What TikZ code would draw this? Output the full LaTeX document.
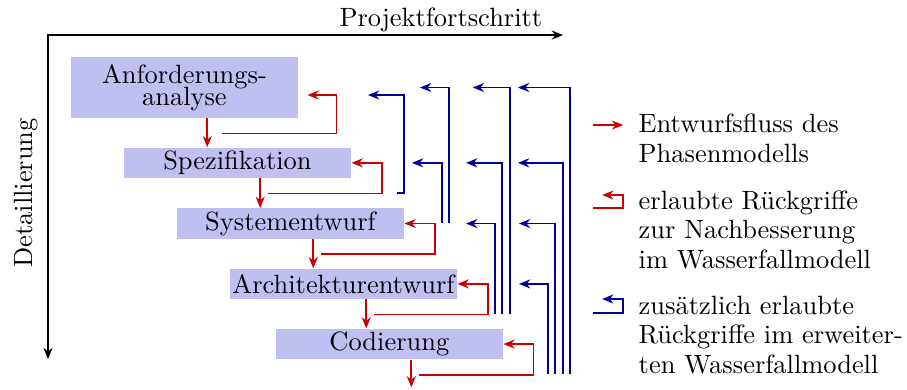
\documentclass[tikz,border=0pt]{standalone}
\usetikzlibrary{arrows.meta, calc}
\definecolor{phasefill}{RGB}{191,191,242}
\definecolor{flowred}{RGB}{204,0,0}
\definecolor{extrablue}{RGB}{0,0,150}

\begin{document}
\begin{tikzpicture}[>={Stealth[length=1.5mm, width=1.2mm]},
  phasebox/.style={fill=phasefill, minimum width=3.02cm, minimum height=0.4cm, inner sep=0.5pt, align=center},
  flowarrow/.style={->, line width=0.7pt, flowred},
  redback/.style={->, line width=0.7pt, flowred},
  blueback/.style={->, line width=0.7pt, extrablue},
  legendtext/.style={anchor=base west, inner sep=0pt, align=left, font=\fontsize{10pt}{11pt}\selectfont}]
  \useasboundingbox (-0.638,-4.708) rectangle (11.425,0.466);
  % axes
  \coordinate (xend) at (6.85,0);
  \coordinate (yend) at (0,-4.31);
  \draw[<->, line width=1pt] (yend) |- (xend);
  \node[anchor=base east, inner sep=0pt] (xlabel) at (6.58,0.11) {Projektfortschritt};
  \node[anchor=base, rotate=90] (ylabel) at (-0.2,-2.10) {Detaillierung};
  % phases
  \node[phasebox, minimum height=0.81cm] (anforderung) at (1.815,-0.698) {Anforderungs-\\[-3.7pt]analyse};
  \node[phasebox] (spezifikation) at (2.52,-1.70) {Spezifikation};
  \node[phasebox] (systementwurf) at (3.225,-2.507) {Systementwurf};
  \node[phasebox] (architektur) at (3.93,-3.31) {Architekturentwurf};
  \node[phasebox] (codierung) at (4.54,-4.11) {Codierung};
  % design flow
  \draw[flowarrow] ([xshift=1.82cm]anforderung.south west) coordinate (f1) -- (f1 |- spezifikation.north);
  \draw[flowarrow] ([xshift=1.82cm]spezifikation.south west) coordinate (f2) -- (f2 |- systementwurf.north);
  \draw[flowarrow] ([xshift=1.82cm]systementwurf.south west) coordinate (f3) -- (f3 |- architektur.north);
  \draw[flowarrow] ([xshift=1.82cm]architektur.south west) coordinate (f4) -- (f4 |- codierung.north);
  \coordinate (codeend) at ([xshift=1.81cm,yshift=-0.37cm]codierung.south west);
  \draw[flowarrow] (codeend |- codierung.south) -- (codeend);
  % waterfall feedback
  \draw[redback] ([xshift=2.02cm,yshift=-0.2cm]anforderung.south west) -| ([xshift=0.505cm,yshift=-0.1cm]anforderung.east) -- ([xshift=0.12cm,yshift=-0.1cm]anforderung.east);
  \draw[redback] ([xshift=1.92cm,yshift=-0.2cm]spezifikation.south west) -| ([xshift=0.4cm]spezifikation.east) -- (spezifikation.east);
  \draw[redback] ([xshift=1.92cm,yshift=-0.2cm]systementwurf.south west) -| ([xshift=0.4cm]systementwurf.east) -- (systementwurf.east);
  \draw[redback] ([xshift=1.92cm,yshift=-0.2cm]architektur.south west) -| ([xshift=0.4cm]architektur.east) -- (architektur.east);
  \draw[redback] ([xshift=1.91cm,yshift=-0.2cm]codierung.south west) -| ([xshift=0.4cm]codierung.east) -- (codierung.east);
  % extended feedback
  \draw[blueback] (4.64,-2.101) -- (4.735,-2.101) |- (4.256,-0.798);
  \draw[blueback] (5.24,-2.50) |- (4.84,0 |- spezifikation);
  \draw[blueback] (5.333,-2.50) |- (4.948,0 |- anforderung);
  \draw[blueback] (5.945,-3.711) |- (5.56,0 |- systementwurf);
  \draw[blueback] (6.038,-3.711) |- (5.56,0 |- spezifikation);
  \draw[blueback] (6.145,-3.711) |- (5.65,0 |- anforderung);
  \draw[blueback] (6.65,-4.509) |- (6.264,0 |- architektur);
  \draw[blueback] (6.743,-4.509) |- (6.264,0 |- systementwurf);
  \draw[blueback] (6.85,-4.509) |- (6.25,0 |- spezifikation);
  \draw[blueback] (6.943,-4.509) |- (6.25,0 |- anforderung);
  % legend
  \node[legendtext] (legflow) at (7.85,-1.689) {Entwurfsfluss des\\Phasenmodells};
  \node[legendtext] (legred) at (7.85,-3.099) {erlaubte R\"uckgriffe\\zur Nachbesserung\\im Wasserfallmodell};
  \node[legendtext] (legblue) at (7.85,-4.495) {zus\"atzlich erlaubte\\R\"uckgriffe im erweiter-\\ten Wasserfallmodell};
  \draw[flowarrow] (7.25,-1.197) -- (7.65,-1.197);
  \draw[redback] (7.25,-2.30) -| (7.65,-2.128) -- (7.37,-2.128);
  \draw[blueback] (7.25,-3.697) -| (7.65,-3.511) -- (7.37,-3.511);
\end{tikzpicture}
\end{document}
